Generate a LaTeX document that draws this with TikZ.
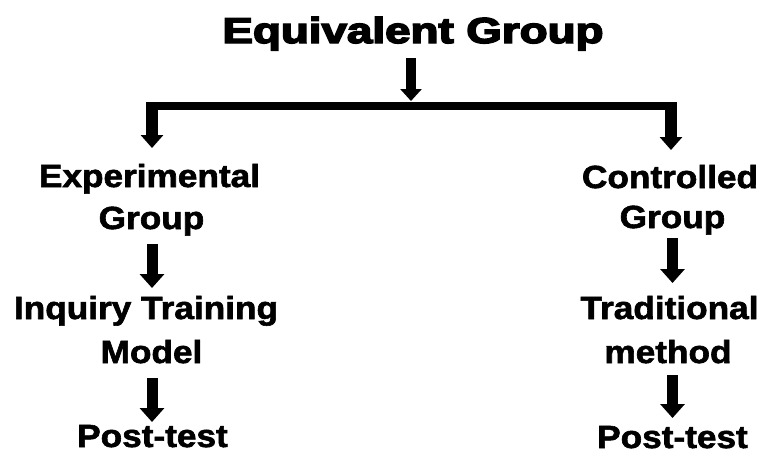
\documentclass[tikz,border=0pt]{standalone}
\usepackage{fontspec}
\setmainfont{Liberation Sans}
\newfontfamily\lblfont[FakeBold=1.8]{Liberation Sans Bold}
\newfontfamily\ttlfont[FakeBold=4]{Liberation Sans Bold}
\usetikzlibrary{arrows.meta}
\begin{document}
\begin{tikzpicture}[x=1pt,y=-1pt,
  txt/.style={font=\lblfont\fontsize{32}{36}\selectfont, inner sep=0pt, anchor=base, xscale=1.1, transform shape},
  ttl/.style={font=\ttlfont\fontsize{36}{40}\selectfont, inner sep=0pt, anchor=base, xscale=1.27, transform shape},
  bigarr/.style={-{Triangle[width=22pt,length=13pt]}, line width=12pt},
  toparr/.style={-{Triangle[width=21pt,length=12pt]}, line width=10pt},
  smallarr/.style={-{Triangle[width=24pt,length=14pt]}, line width=11pt},
  barline/.style={line width=8pt}]
\useasboundingbox (0,0) rectangle (762,456);
% texts
\node[ttl] (eq) at (413,43) {Equivalent Group};
\node[txt] (expA) at (149.5,187) {Experimental};
\node[txt] (expB) at (151.5,229) {Group};
\node[txt] (itmA) at (146,319) {Inquiry Training};
\node[txt] (itmB) at (151.5,363) {Model};
\node[txt] (postL) at (152.5,447) {Post-test};
\node[txt] (ctrlA) at (670,188) {Controlled};
\node[txt] (ctrlB) at (672.5,228) {Group};
\node[txt] (tradA) at (669.5,319) {Traditional};
\node[txt] (tradB) at (668,363) {method};
\node[txt] (postR) at (672.5,448) {Post-test};
% connector points
\coordinate (topS) at (411,58);
\coordinate (topT) at (411,101);
\coordinate (barL) at (146,106);
\coordinate (barR) at (677,106);
\coordinate (dropL) at (152,102);
\coordinate (dropLT) at (152,148);
\coordinate (dropR) at (671,102);
\coordinate (dropRT) at (671,150);
\coordinate (l1s) at (152,244); \coordinate (l1t) at (152,288);
\coordinate (l2s) at (152,378); \coordinate (l2t) at (152,422);
\coordinate (r1s) at (672.5,238); \coordinate (r1t) at (672.5,283);
\coordinate (r2s) at (672.5,375); \coordinate (r2t) at (672.5,418);
% connectors
\draw[toparr] (topS) -- (topT);
\draw[barline] (barL) -- (barR);
\draw[bigarr] (dropL) -- (dropLT);
\draw[bigarr] (dropR) -- (dropRT);
\draw[smallarr] (l1s) -- (l1t);
\draw[smallarr] (l2s) -- (l2t);
\draw[smallarr] (r1s) -- (r1t);
\draw[smallarr] (r2s) -- (r2t);
\end{tikzpicture}
\end{document}
